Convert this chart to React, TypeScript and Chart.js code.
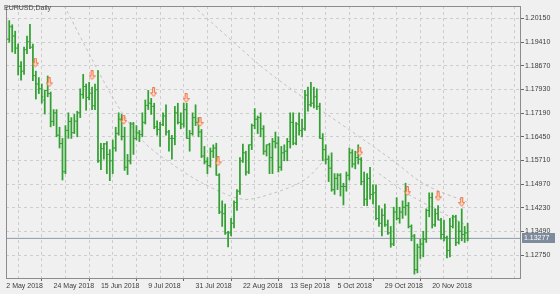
import React, { useEffect, useRef } from 'react';
import { Chart, registerables } from 'chart.js';

Chart.register(...registerables);

const symbolTitle = 'EURUSD,Daily';
const dateLabels = ['2 May 2018', '24 May 2018', '15 Jun 2018', '9 Jul 2018', '31 Jul 2018', '22 Aug 2018', '13 Sep 2018', '5 Oct 2018', '29 Oct 2018', '20 Nov 2018'];
const yTickValues = [1.2015, 1.1941, 1.1867, 1.1793, 1.1719, 1.1645, 1.1571, 1.1497, 1.1423, 1.1349, 1.1275];
const lastPrice = 1.13277;

const opens = [
  1.1990, 1.1950, 1.1988, 1.1960, 1.1922, 1.1865, 1.1850, 1.1917, 1.1942, 1.1925,
  1.1836, 1.1810, 1.1795, 1.1760, 1.1790, 1.1780, 1.1693, 1.1720, 1.1650, 1.1624,
  1.1536, 1.1665, 1.1693, 1.1658, 1.1694, 1.1720, 1.1777, 1.1802, 1.1768, 1.1781,
  1.1742, 1.1792, 1.1570, 1.1608, 1.1623, 1.1590, 1.1570, 1.1610, 1.1656, 1.1700,
  1.1646, 1.1550, 1.1570, 1.1685, 1.1640, 1.1657, 1.1652, 1.1690, 1.1743, 1.1750,
  1.1740, 1.1676, 1.1668, 1.1683, 1.1710, 1.1660, 1.1640, 1.1640, 1.1720, 1.1690,
  1.1685, 1.1730, 1.1640, 1.1655, 1.1705, 1.1690, 1.1660, 1.1585, 1.1567, 1.1555,
  1.1600, 1.1610, 1.1525, 1.1410, 1.1405, 1.1345, 1.1345, 1.1375, 1.1440, 1.1475,
  1.1570, 1.1595, 1.1535, 1.1620, 1.1680, 1.1700, 1.1705, 1.1670, 1.1600, 1.1620,
  1.1580, 1.1630, 1.1625, 1.1550, 1.1595, 1.1600, 1.1630, 1.1690, 1.1625, 1.1685,
  1.1665, 1.1670, 1.1775, 1.1745, 1.1750, 1.1770, 1.1740, 1.1640, 1.1605, 1.1575,
  1.1547, 1.1480, 1.1515, 1.1525, 1.1490, 1.1490, 1.1525, 1.1595, 1.1560, 1.1580,
  1.1575, 1.1505, 1.1450, 1.1515, 1.1465, 1.1470, 1.1390, 1.1375, 1.1400, 1.1370,
  1.1345, 1.1310, 1.1410, 1.1390, 1.1410, 1.1425, 1.1430, 1.1365, 1.1335, 1.1230,
  1.1300, 1.1310, 1.1325, 1.1415, 1.1455, 1.1370, 1.1405, 1.1385, 1.1340, 1.1330,
  1.1290, 1.1365, 1.1395, 1.1315, 1.1350, 1.1340, 1.1345,
];
const highs = [
  1.2010, 1.2008, 1.1995, 1.1975, 1.1935, 1.1880, 1.1925, 1.1960, 1.1996, 1.1935,
  1.1850, 1.1830, 1.1810, 1.1790, 1.1835, 1.1785, 1.1730, 1.1730, 1.1675, 1.1640,
  1.1680, 1.1720, 1.1705, 1.1715, 1.1725, 1.1795, 1.1840, 1.1810, 1.1815, 1.1800,
  1.1810, 1.1852, 1.1625, 1.1625, 1.1630, 1.1605, 1.1635, 1.1675, 1.1720, 1.1715,
  1.1675, 1.1590, 1.1690, 1.1690, 1.1680, 1.1665, 1.1720, 1.1760, 1.1790, 1.1765,
  1.1750, 1.1695, 1.1690, 1.1720, 1.1745, 1.1665, 1.1650, 1.1740, 1.1750, 1.1720,
  1.1750, 1.1750, 1.1665, 1.1720, 1.1745, 1.1705, 1.1668, 1.1615, 1.1580, 1.1610,
  1.1620, 1.1625, 1.1530, 1.1445, 1.1435, 1.1350, 1.1390, 1.1445, 1.1480, 1.1580,
  1.1622, 1.1600, 1.1620, 1.1685, 1.1733, 1.1710, 1.1720, 1.1680, 1.1620, 1.1625,
  1.1640, 1.1660, 1.1645, 1.1615, 1.1620, 1.1640, 1.1720, 1.1720, 1.1690, 1.1720,
  1.1700, 1.1790, 1.1800, 1.1815, 1.1800, 1.1795, 1.1750, 1.1655, 1.1620, 1.1585,
  1.1595, 1.1530, 1.1530, 1.1530, 1.1500, 1.1535, 1.1610, 1.1605, 1.1600, 1.1620,
  1.1580, 1.1535, 1.1530, 1.1550, 1.1495, 1.1495, 1.1430, 1.1420, 1.1435, 1.1385,
  1.1365, 1.1425, 1.1455, 1.1425, 1.1445, 1.1500, 1.1440, 1.1370, 1.1340, 1.1310,
  1.1325, 1.1350, 1.1420, 1.1470, 1.1470, 1.1420, 1.1430, 1.1390, 1.1385, 1.1335,
  1.1390, 1.1400, 1.1400, 1.1380, 1.1420, 1.1365, 1.1375,
];
const lows = [
  1.1945, 1.1940, 1.1910, 1.1905, 1.1838, 1.1822, 1.1840, 1.1905, 1.1920, 1.1820,
  1.1763, 1.1780, 1.1750, 1.1716, 1.1770, 1.1676, 1.1680, 1.1645, 1.1610, 1.1510,
  1.1530, 1.1640, 1.1640, 1.1655, 1.1645, 1.1705, 1.1765, 1.1728, 1.1760, 1.1730,
  1.1730, 1.1565, 1.1542, 1.1575, 1.1530, 1.1508, 1.1530, 1.1600, 1.1650, 1.1635,
  1.1540, 1.1527, 1.1560, 1.1590, 1.1635, 1.1630, 1.1645, 1.1685, 1.1730, 1.1715,
  1.1670, 1.1650, 1.1615, 1.1680, 1.1650, 1.1600, 1.1575, 1.1620, 1.1685, 1.1670,
  1.1675, 1.1640, 1.1600, 1.1650, 1.1680, 1.1645, 1.1580, 1.1560, 1.1530, 1.1550,
  1.1580, 1.1525, 1.1405, 1.1365, 1.1340, 1.1301, 1.1335, 1.1360, 1.1415, 1.1465,
  1.1565, 1.1525, 1.1530, 1.1605, 1.1670, 1.1655, 1.1645, 1.1590, 1.1585, 1.1530,
  1.1530, 1.1610, 1.1535, 1.1540, 1.1570, 1.1570, 1.1610, 1.1620, 1.1620, 1.1650,
  1.1645, 1.1665, 1.1725, 1.1740, 1.1735, 1.1730, 1.1640, 1.1570, 1.1560, 1.1505,
  1.1475, 1.1465, 1.1480, 1.1460, 1.1432, 1.1475, 1.1510, 1.1550, 1.1545, 1.1560,
  1.1495, 1.1430, 1.1430, 1.1450, 1.1435, 1.1385, 1.1365, 1.1335, 1.1365, 1.1340,
  1.1300, 1.1305, 1.1385, 1.1375, 1.1390, 1.1400, 1.1360, 1.1320, 1.1216, 1.1220,
  1.1265, 1.1270, 1.1315, 1.1395, 1.1360, 1.1365, 1.1385, 1.1325, 1.1320, 1.1267,
  1.1270, 1.1360, 1.1305, 1.1310, 1.1320, 1.1315, 1.1320,
];
const closes = [
  1.1950, 1.1990, 1.1960, 1.1922, 1.1865, 1.1850, 1.1917, 1.1942, 1.1925, 1.1836,
  1.1810, 1.1795, 1.1770, 1.1790, 1.1780, 1.1693, 1.1720, 1.1650, 1.1624, 1.1536,
  1.1665, 1.1693, 1.1658, 1.1694, 1.1720, 1.1777, 1.1802, 1.1768, 1.1781, 1.1742,
  1.1792, 1.1570, 1.1608, 1.1623, 1.1590, 1.1570, 1.1610, 1.1656, 1.1700, 1.1646,
  1.1550, 1.1570, 1.1685, 1.1640, 1.1657, 1.1652, 1.1690, 1.1743, 1.1750, 1.1740,
  1.1676, 1.1668, 1.1683, 1.1710, 1.1660, 1.1640, 1.1640, 1.1720, 1.1690, 1.1685,
  1.1730, 1.1640, 1.1655, 1.1705, 1.1690, 1.1660, 1.1585, 1.1567, 1.1555, 1.1600,
  1.1610, 1.1525, 1.1410, 1.1405, 1.1345, 1.1345, 1.1375, 1.1440, 1.1475, 1.1570,
  1.1595, 1.1535, 1.1620, 1.1680, 1.1700, 1.1705, 1.1670, 1.1600, 1.1620, 1.1580,
  1.1630, 1.1625, 1.1550, 1.1595, 1.1600, 1.1630, 1.1690, 1.1625, 1.1685, 1.1665,
  1.1670, 1.1775, 1.1745, 1.1750, 1.1770, 1.1740, 1.1640, 1.1605, 1.1575, 1.1547,
  1.1480, 1.1515, 1.1525, 1.1490, 1.1490, 1.1525, 1.1595, 1.1560, 1.1580, 1.1575,
  1.1505, 1.1450, 1.1515, 1.1465, 1.1470, 1.1390, 1.1375, 1.1400, 1.1370, 1.1345,
  1.1310, 1.1410, 1.1390, 1.1410, 1.1425, 1.1430, 1.1365, 1.1335, 1.1230, 1.1300,
  1.1310, 1.1325, 1.1415, 1.1455, 1.1370, 1.1405, 1.1385, 1.1340, 1.1330, 1.1290,
  1.1365, 1.1395, 1.1315, 1.1350, 1.1340, 1.1345, 1.13277,
];

const arrowBars = [9.8, 14.5, 29, 39.7, 49.8, 60.8, 65.5, 71.6, 119.5, 135.6, 146, 154];
const arrowPrices = [1.1877, 1.1815, 1.1837, 1.1698, 1.1784, 1.1766, 1.1691, 1.1568, 1.1599, 1.1475, 1.1459, 1.1441];

const guideOneBars = [19.6, 36.3, 46.4, 56, 66.6, 79.9, 90, 101.1, 110];
const guideOnePrices = [1.2054, 1.1763, 1.1630, 1.1560, 1.1499, 1.1450, 1.1468, 1.1512, 1.1599];
const guideTwoBars = [63.2, 86.6, 101.1, 130.3, 141.3, 156];
const guideTwoPrices = [1.2054, 1.1862, 1.1763, 1.1574, 1.1497, 1.1440];
const guideThreeBars = [126, 137, 156];
const guideThreePrices = [1.1530, 1.1460, 1.1366];

const X_MIN = -0.1;
const X_MAX = 173.7;
const Y_MIN = 1.120393;
const Y_MAX = 1.205362;
const xTickIdx = Array.from({ length: 22 }, (_, k) => k * 8);

const FONT = '"Liberation Sans", Arial, sans-serif';
const BAR_GREEN = '#34a034';

function makeArrow(): HTMLCanvasElement {
  const c = document.createElement('canvas');
  c.width = 7;
  c.height = 10;
  const g = c.getContext('2d')!;
  g.beginPath();
  g.moveTo(2.5, 0.5);
  g.lineTo(4.5, 0.5);
  g.lineTo(4.5, 5.5);
  g.lineTo(6.5, 5.5);
  g.lineTo(3.5, 9.2);
  g.lineTo(0.5, 5.5);
  g.lineTo(2.5, 5.5);
  g.closePath();
  g.fillStyle = '#fde0d2';
  g.fill();
  g.strokeStyle = '#f2703f';
  g.lineWidth = 1;
  g.stroke();
  return c;
}

const decor = {
  id: 'decor',
  beforeDraw(chart: any) {
    const { ctx, width, height } = chart;
    ctx.save();
    ctx.fillStyle = '#f0f0f0';
    ctx.fillRect(0, 0, width, height);
    ctx.restore();
  },
  afterDraw(chart: any) {
    const { ctx, chartArea: a, scales } = chart;
    ctx.save();
    ctx.strokeStyle = '#8c8c8c';
    ctx.lineWidth = 1;
    ctx.beginPath();
    ctx.moveTo(a.left + 0.5, a.bottom);
    ctx.lineTo(a.left + 0.5, a.top + 0.5);
    ctx.lineTo(a.right, a.top + 0.5);
    ctx.stroke();
    ctx.font = '7px ' + FONT;
    ctx.fillStyle = '#4a4a4a';
    ctx.textBaseline = 'alphabetic';
    ctx.fillText(symbolTitle, 4, 10);
    const py = scales.y.getPixelForValue(lastPrice);
    ctx.fillStyle = '#7d8b9c';
    ctx.fillRect(a.right + 2, Math.round(py) - 5, 33, 10);
    ctx.fillStyle = '#ffffff';
    ctx.textBaseline = 'middle';
    ctx.fillText(lastPrice.toFixed(5), a.right + 4, Math.round(py) + 0.5);
    ctx.restore();
  },
};

export default function App() {
  const ref = useRef<HTMLCanvasElement | null>(null);
  useEffect(() => {
    document.body.style.margin = '0';
    document.body.style.background = '#f0f0f0';
    const canvas = ref.current;
    if (!canvas) return;
    const arrowImg = makeArrow();
    const hl = highs.map((h, i) => ({ x: i, y: [lows[i], h] }));
    const openPts = opens.map((o, i) => ({ x: i, y: o }));
    const closePts = closes.map((c, i) => ({ x: i, y: c }));
    const arrows = arrowBars.map((b, i) => ({ x: b, y: arrowPrices[i] }));
    const g1 = guideOneBars.map((b, i) => ({ x: b, y: guideOnePrices[i] }));
    const g2 = guideTwoBars.map((b, i) => ({ x: b, y: guideTwoPrices[i] }));
    const g3 = guideThreeBars.map((b, i) => ({ x: b, y: guideThreePrices[i] }));
    const priceLine = [{ x: X_MIN, y: lastPrice }, { x: X_MAX, y: lastPrice }];
    const guideStyle = { type: 'line', borderColor: '#c2c2c2', borderDash: [3, 3], borderWidth: 1, pointRadius: 0, tension: 0.3, order: 10 };

    const chart = new Chart(canvas, {
      type: 'bar',
      data: {
        datasets: [
          { ...guideStyle, data: g1 } as any,
          { ...guideStyle, data: g2 } as any,
          { ...guideStyle, data: g3 } as any,
          { type: 'line', data: priceLine, borderColor: '#8d99a8', borderWidth: 1, pointRadius: 0, order: 9 } as any,
          { type: 'bar', data: hl, backgroundColor: BAR_GREEN, barThickness: 1.1, grouped: false, borderWidth: 0, order: 5 } as any,
          { type: 'scatter', data: openPts, pointStyle: 'dash', rotation: 180, pointRadius: 1.6, borderColor: BAR_GREEN, borderWidth: 1, order: 4 } as any,
          { type: 'scatter', data: closePts, pointStyle: 'dash', rotation: 0, pointRadius: 1.6, borderColor: BAR_GREEN, borderWidth: 1, order: 4 } as any,
          { type: 'scatter', data: arrows, pointStyle: arrowImg, pointRadius: 5, order: 1 } as any,
        ],
      },
      options: {
        animation: false,
        responsive: false,
        devicePixelRatio: 1,
        events: [],
        layout: { padding: { left: 2, top: 3, right: 0, bottom: 0 } },
        plugins: { legend: { display: false }, tooltip: { enabled: false } },
        scales: {
          x: {
            type: 'linear',
            min: X_MIN,
            max: X_MAX,
            bounds: 'data',
            offset: false,
            afterBuildTicks: (s: any) => { s.ticks = xTickIdx.map((v) => ({ value: v })); },
            afterFit: (s: any) => { s.height = 16; s.paddingLeft = 0; s.paddingRight = 0; },
            ticks: {
              autoSkip: false,
              maxRotation: 0,
              minRotation: 0,
              align: 'start',
              padding: 1,
              color: '#3c3c3c',
              font: { size: 7, family: FONT },
              callback: (v: any) => (Number(v) % 16 === 0 && dateLabels[Number(v) / 16]) ? dateLabels[Number(v) / 16] : '',
            },
            grid: {
              color: '#cdcdcd',
              tickLength: 3,
              tickColor: (c: any) => (c.tick && c.tick.value % 16 === 0 && dateLabels[c.tick.value / 16]) ? '#666666' : 'rgba(0,0,0,0)',
            },
            border: { color: '#8c8c8c', dash: [3, 3] },
          } as any,
          y: {
            type: 'linear',
            position: 'right',
            min: Y_MIN,
            max: Y_MAX,
            bounds: 'data',
            afterBuildTicks: (s: any) => { s.ticks = yTickValues.map((v) => ({ value: v })); },
            afterFit: (s: any) => { s.width = 40; s.paddingTop = 0; s.paddingBottom = 0; },
            ticks: {
              padding: 1,
              color: '#3c3c3c',
              font: { size: 7, family: FONT },
              callback: (v: any) => Number(v).toFixed(5),
            },
            grid: { color: '#cdcdcd', tickLength: 4, tickColor: '#666666' },
            border: { color: '#8c8c8c', dash: [3, 3] },
          } as any,
        },
      },
      plugins: [decor],
    });
    return () => chart.destroy();
  }, []);
  return <canvas ref={ref} width={560} height={294} style={{ display: 'block', width: 560, height: 294 }} />;
}
